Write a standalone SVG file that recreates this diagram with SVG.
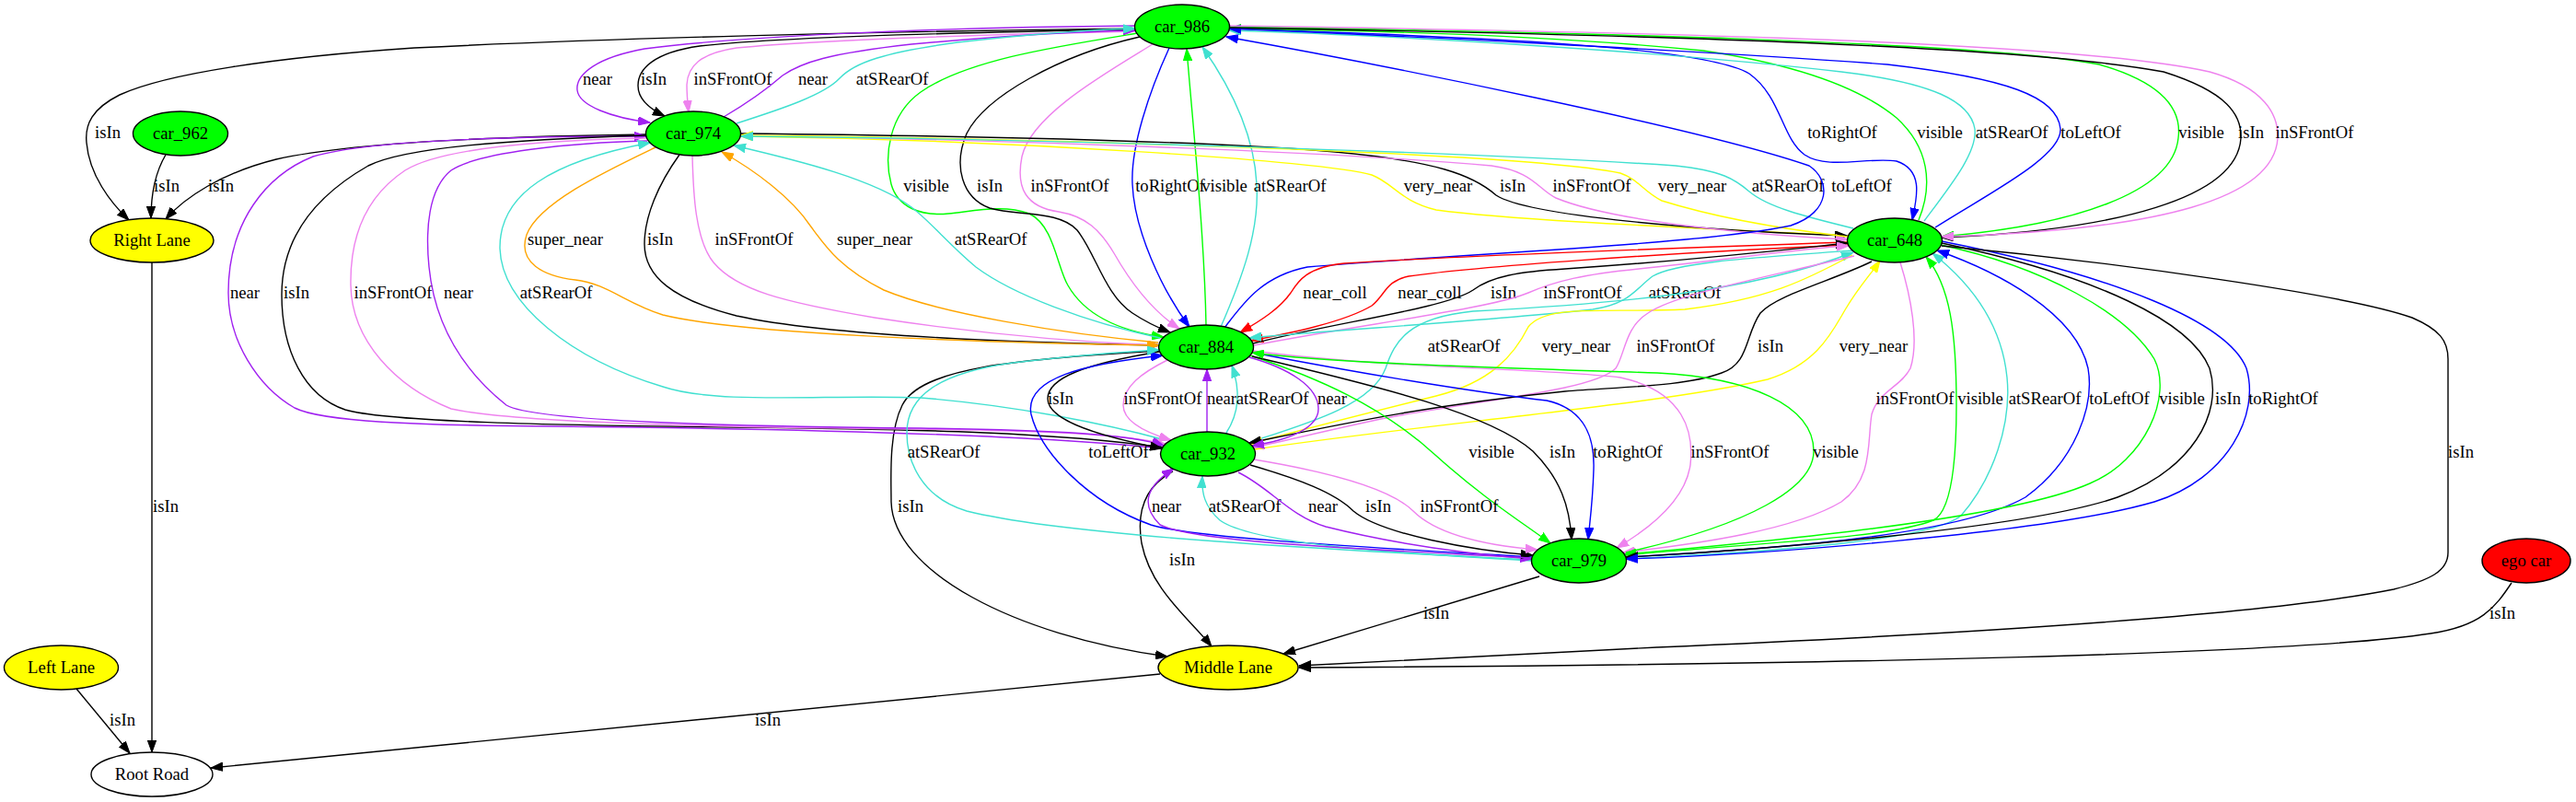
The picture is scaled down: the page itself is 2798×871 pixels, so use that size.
<svg xmlns="http://www.w3.org/2000/svg" width="2798" height="871" viewBox="0 0 2798 871">
<style>
text{font-family:"Liberation Serif","Times New Roman",serif;font-size:18.67px;text-anchor:middle;fill:#000}
#edges path{fill:none;stroke-width:1.4}
.k{stroke:#000}.p{stroke:#a020f0}.v{stroke:#ee82ee}.t{stroke:#40e0d0}.g{stroke:#00ff00}.b{stroke:#0000ff}.r{stroke:#ff0000}.o{stroke:#ffa500}.y{stroke:#ffff00}
.node ellipse{stroke:#000;stroke-width:1.4}
</style>
<defs>
<marker id="ak" viewBox="0 0 14 10" refX="13" refY="5" markerWidth="14" markerHeight="10" markerUnits="userSpaceOnUse" orient="auto"><path d="M0,0.3L13,5L0,9.7z" fill="#000" stroke="#000"/></marker>
<marker id="ap" viewBox="0 0 14 10" refX="13" refY="5" markerWidth="14" markerHeight="10" markerUnits="userSpaceOnUse" orient="auto"><path d="M0,0.3L13,5L0,9.7z" fill="#a020f0" stroke="#a020f0"/></marker>
<marker id="av" viewBox="0 0 14 10" refX="13" refY="5" markerWidth="14" markerHeight="10" markerUnits="userSpaceOnUse" orient="auto"><path d="M0,0.3L13,5L0,9.7z" fill="#ee82ee" stroke="#ee82ee"/></marker>
<marker id="at" viewBox="0 0 14 10" refX="13" refY="5" markerWidth="14" markerHeight="10" markerUnits="userSpaceOnUse" orient="auto"><path d="M0,0.3L13,5L0,9.7z" fill="#40e0d0" stroke="#40e0d0"/></marker>
<marker id="ag" viewBox="0 0 14 10" refX="13" refY="5" markerWidth="14" markerHeight="10" markerUnits="userSpaceOnUse" orient="auto"><path d="M0,0.3L13,5L0,9.7z" fill="#00ff00" stroke="#00ff00"/></marker>
<marker id="ab" viewBox="0 0 14 10" refX="13" refY="5" markerWidth="14" markerHeight="10" markerUnits="userSpaceOnUse" orient="auto"><path d="M0,0.3L13,5L0,9.7z" fill="#0000ff" stroke="#0000ff"/></marker>
<marker id="ar" viewBox="0 0 14 10" refX="13" refY="5" markerWidth="14" markerHeight="10" markerUnits="userSpaceOnUse" orient="auto"><path d="M0,0.3L13,5L0,9.7z" fill="#ff0000" stroke="#ff0000"/></marker>
<marker id="ao" viewBox="0 0 14 10" refX="13" refY="5" markerWidth="14" markerHeight="10" markerUnits="userSpaceOnUse" orient="auto"><path d="M0,0.3L13,5L0,9.7z" fill="#ffa500" stroke="#ffa500"/></marker>
<marker id="ay" viewBox="0 0 14 10" refX="13" refY="5" markerWidth="14" markerHeight="10" markerUnits="userSpaceOnUse" orient="auto"><path d="M0,0.3L13,5L0,9.7z" fill="#ffff00" stroke="#ffff00"/></marker>
</defs>
<rect width="2798" height="871" fill="#fff"/>
<g id="edges">
<g id="e1"><path class="k" marker-end="url(#ak)" d="M1233,31 C950,34 650,42 450,52 C300,62 180,80 130,103 C100,118 92,135 94,155 C97,190 120,220 140,239"/><text x="117" y="150">isIn</text></g>
<g id="e2"><path class="p" marker-end="url(#ap)" d="M1232,28 C1000,30 800,40 700,53 C650,62 625,80 627,98 C629,115 665,128 706,133"/><text x="649" y="92">near</text></g>
<g id="e3"><path class="k" marker-end="url(#ak)" d="M1233,32 C1050,35 850,40 760,50 C710,57 693,75 693,93 C693,108 705,118 722,126"/><text x="710" y="92">isIn</text></g>
<g id="e4"><path class="v" marker-end="url(#av)" d="M1233,34 C1050,38 880,44 800,52 C760,58 747,72 746,92 C746,105 747,113 748,122"/><text x="796" y="92">inSFrontOf</text></g>
<g id="e5"><path class="p" marker-end="url(#ap)" d="M786,127 C815,110 835,95 850,82 C870,68 900,58 990,48 C1100,38 1180,34 1233,33"/><text x="883" y="92">near</text></g>
<g id="e6"><path class="t" marker-end="url(#at)" d="M800,134 C850,118 895,103 912,85 C928,68 960,57 1040,46 C1120,37 1190,32 1233,31"/><text x="969" y="92">atSRearOf</text></g>
<g id="e7"><path class="g" marker-end="url(#ag)" d="M1236,36 C1150,50 1050,65 1000,100 C965,125 960,170 968,200 C975,225 1000,235 1030,232 C1060,229 1090,222 1118,232 C1145,245 1148,290 1160,310 C1180,345 1220,360 1264,366"/><text x="1006" y="208">visible</text></g>
<g id="e8"><path class="k" marker-end="url(#ak)" d="M1238,40 C1150,60 1070,105 1050,145 C1035,180 1045,215 1075,226 C1105,235 1150,228 1170,250 C1190,275 1200,320 1230,340 C1245,350 1258,356 1271,361"/><text x="1075" y="208">isIn</text></g>
<g id="e9"><path class="v" marker-end="url(#av)" d="M1252,48 C1200,80 1120,125 1110,170 C1103,205 1115,225 1150,230 C1180,235 1195,250 1210,275 C1230,310 1255,340 1281,357"/><text x="1162" y="208">inSFrontOf</text></g>
<g id="e10"><path class="b" marker-end="url(#ab)" d="M1270,52 C1248,100 1228,160 1230,200 C1232,250 1262,315 1292,355"/><text x="1271" y="208">toRightOf</text></g>
<g id="e11"><path class="g" marker-end="url(#ag)" d="M1310,353 C1308,250 1295,130 1289,53"/><text x="1330" y="208">visible</text></g>
<g id="e12"><path class="t" marker-end="url(#at)" d="M1326,355 C1350,300 1368,250 1365,200 C1362,140 1330,85 1306,51"/><text x="1401" y="208">atSRearOf</text></g>
<g id="e13"><path class="k" marker-end="url(#ak)" d="M738,168 C715,200 700,235 700,265 C700,300 730,325 800,343 C900,365 1100,372 1259,375"/><text x="717" y="266">isIn</text></g>
<g id="e14"><path class="v" marker-end="url(#av)" d="M752,169 C753,210 755,260 775,285 C800,315 850,328 950,345 C1080,365 1180,372 1259,375"/><text x="819" y="266">inSFrontOf</text></g>
<g id="e15"><path class="o" marker-end="url(#ao)" d="M1258,372 C1150,362 1020,340 960,315 C910,290 895,265 880,245 C860,215 820,185 784,165"/><text x="950" y="266">super_near</text></g>
<g id="e16"><path class="o" marker-end="url(#ao)" d="M712,160 C660,185 585,220 572,255 C562,285 590,300 625,304 C660,308 680,330 720,342 C800,362 1050,372 1259,375"/><text x="614" y="266">super_near</text></g>
<g id="e17"><path class="t" marker-end="url(#at)" d="M1260,367 C1180,350 1100,320 1060,290 C1030,265 1010,240 990,225 C950,195 870,175 797,158"/><text x="1076" y="266">atSRearOf</text></g>
<g id="e18"><path class="y" marker-end="url(#ay)" d="M2008,256 C1850,248 1650,240 1560,228 C1520,218 1515,200 1490,190 C1440,175 1100,152 805,148"/><text x="1562" y="208">very_near</text></g>
<g id="e19"><path class="k" marker-end="url(#ak)" d="M805,145 C1000,147 1300,152 1450,165 C1560,175 1600,190 1625,212 C1660,235 1850,250 2006,256"/><text x="1643" y="208">isIn</text></g>
<g id="e20"><path class="v" marker-end="url(#av)" d="M805,147 C1100,152 1450,165 1620,180 C1665,186 1670,205 1690,215 C1750,240 1900,255 2007,260"/><text x="1729" y="208">inSFrontOf</text></g>
<g id="e21"><path class="y" marker-end="url(#ay)" d="M2007,257 C1920,247 1850,232 1805,218 C1785,208 1780,195 1760,188 C1650,165 1100,150 805,147"/><text x="1838" y="208">very_near</text></g>
<g id="e22"><path class="t" marker-end="url(#at)" d="M2013,248 C1960,235 1920,225 1900,208 C1885,195 1870,185 1820,180 C1600,165 1100,150 805,148"/><text x="1942" y="208">atSRearOf</text></g>
<g id="e23"><path class="b" marker-end="url(#ab)" d="M1330,356 C1350,330 1370,300 1420,290 C1600,275 1850,265 1945,245 C1990,230 1988,195 1965,180 C1850,140 1500,70 1332,40"/><text x="2022" y="208">toLeftOf</text></g>
<g id="e24"><path class="b" marker-end="url(#ab)" d="M1336,31 C1600,40 1850,50 1900,80 C1935,105 1935,150 1960,168 C1985,185 2030,170 2060,175 C2090,185 2082,215 2077,239"/><text x="2001" y="150">toRightOf</text></g>
<g id="e25"><path class="g" marker-end="url(#ag)" d="M2084,239 C2100,200 2095,160 2060,128 C2020,95 1950,70 1850,55 C1700,40 1500,33 1335,31"/><text x="2107" y="150">visible</text></g>
<g id="e26"><path class="t" marker-end="url(#at)" d="M2090,240 C2120,200 2148,165 2145,140 C2140,110 2100,90 2000,78 C1800,55 1500,38 1335,33"/><text x="2185" y="150">atSRearOf</text></g>
<g id="e27"><path class="b" marker-end="url(#ab)" d="M2102,247 C2160,210 2240,170 2238,140 C2235,105 2180,85 2050,70 C1850,55 1500,38 1335,31"/><text x="2271" y="150">toLeftOf</text></g>
<g id="e28"><path class="g" marker-end="url(#ag)" d="M1336,29 C1700,35 2150,45 2280,70 C2350,90 2370,120 2366,150 C2360,210 2250,245 2109,257"/><text x="2391" y="150">visible</text></g>
<g id="e29"><path class="k" marker-end="url(#ak)" d="M1336,30 C1800,38 2200,50 2350,78 C2420,100 2435,125 2434,150 C2430,215 2300,250 2109,258"/><text x="2445" y="150">isIn</text></g>
<g id="e30"><path class="v" marker-end="url(#av)" d="M1336,28 C1800,35 2250,45 2400,78 C2460,95 2475,125 2474,150 C2470,215 2350,250 2109,257"/><text x="2514" y="150">inSFrontOf</text></g>
<g id="e31"><path class="r" marker-end="url(#ar)" d="M2007,263 C1800,270 1550,280 1460,286 C1420,290 1410,305 1402,318 C1390,335 1370,348 1347,361"/><text x="1450" y="324">near_coll</text></g>
<g id="e32"><path class="r" marker-end="url(#ar)" d="M2008,266 C1800,275 1600,290 1530,300 C1505,305 1505,320 1490,332 C1460,350 1400,362 1359,370"/><text x="1553" y="324">near_coll</text></g>
<g id="e33"><path class="k" marker-end="url(#ak)" d="M1361,373 C1450,350 1570,335 1600,315 C1620,300 1650,295 1700,292 C1850,282 1950,270 2007,264"/><text x="1633" y="324">isIn</text></g>
<g id="e34"><path class="v" marker-end="url(#av)" d="M1362,375 C1480,352 1620,335 1660,318 C1690,305 1720,298 1780,292 C1880,282 1950,270 2008,267"/><text x="1719" y="324">inSFrontOf</text></g>
<g id="e35"><path class="t" marker-end="url(#at)" d="M2013,272 C1900,280 1820,285 1795,300 C1775,315 1770,330 1730,336 C1600,350 1450,358 1357,367"/><text x="1830" y="324">atSRearOf</text></g>
<g id="e36"><path class="t" marker-end="url(#at)" d="M1358,480 C1420,460 1490,440 1505,400 C1515,370 1530,345 1600,338 C1750,330 1900,318 2013,274"/><text x="1590" y="382">atSRearOf</text></g>
<g id="e37"><path class="y" marker-end="url(#ay)" d="M2012,277 C1960,305 1920,325 1830,336 C1740,340 1680,330 1660,355 C1645,385 1620,415 1560,430 C1480,450 1420,465 1358,482"/><text x="1712" y="382">very_near</text></g>
<g id="e38"><path class="v" marker-end="url(#av)" d="M2014,278 C1900,305 1820,320 1790,340 C1765,355 1765,385 1755,400 C1730,425 1600,435 1500,455 C1430,470 1400,478 1360,486"/><text x="1820" y="382">inSFrontOf</text></g>
<g id="e39"><path class="k" marker-end="url(#ak)" d="M2033,284 C1990,305 1930,320 1912,340 C1895,365 1900,395 1870,405 C1830,420 1760,420 1700,425 C1550,440 1450,462 1357,481"/><text x="1923" y="382">isIn</text></g>
<g id="e40"><path class="y" marker-end="url(#ay)" d="M1363,488 C1550,460 1800,440 1920,412 C1975,395 1990,360 2005,335 C2020,310 2032,298 2042,283"/><text x="2035" y="382">very_near</text></g>
<g id="e41"><path class="v" marker-end="url(#av)" d="M2064,285 C2075,320 2085,370 2075,400 C2065,420 2040,425 2033,450 C2028,480 2035,520 2000,545 C1950,575 1850,590 1763,600"/><text x="2080" y="439">inSFrontOf</text></g>
<g id="e42"><path class="g" marker-end="url(#ag)" d="M1766,603 C1900,590 2050,585 2100,565 C2120,555 2125,500 2125,440 C2125,360 2118,310 2092,279"/><text x="2151" y="439">visible</text></g>
<g id="e43"><path class="t" marker-end="url(#at)" d="M1766,607 C1950,598 2100,585 2130,560 C2165,520 2185,460 2180,410 C2175,360 2150,315 2099,275"/><text x="2221" y="439">atSRearOf</text></g>
<g id="e44"><path class="b" marker-end="url(#ab)" d="M1766,605 C1950,595 2130,580 2200,540 C2255,500 2275,440 2268,400 C2255,340 2170,295 2104,272"/><text x="2302" y="439">toLeftOf</text></g>
<g id="e45"><path class="g" marker-end="url(#ag)" d="M2108,266 C2220,290 2310,340 2340,390 C2360,430 2330,500 2270,525 C2180,565 1900,590 1764,602"/><text x="2370" y="439">visible</text></g>
<g id="e46"><path class="k" marker-end="url(#ak)" d="M2109,264 C2280,300 2380,350 2400,400 C2415,450 2380,510 2300,540 C2200,575 1900,598 1766,605"/><text x="2420" y="439">isIn</text></g>
<g id="e47"><path class="b" marker-end="url(#ab)" d="M2109,262 C2300,300 2420,350 2440,400 C2455,450 2420,520 2340,545 C2220,580 1900,603 1766,607"/><text x="2480" y="439">toRightOf</text></g>
<g id="e48"><path class="k" marker-end="url(#ak)" d="M2109,267 C2300,285 2550,320 2620,345 C2650,358 2659,370 2659,390 L2659,600 C2659,620 2640,630 2600,640 C2450,670 2100,690 1800,703 C1650,710 1500,718 1411,723"/><text x="2673" y="497">isIn</text></g>
<g id="e49"><path class="k" marker-end="url(#ak)" d="M2728,633 C2710,660 2695,680 2640,688 C2500,710 2000,722 1411,725"/><text x="2718" y="672">isIn</text></g>
<g id="e50"><path class="k" marker-end="url(#ak)" d="M1672,626 L1394,710"/><text x="1560" y="672">isIn</text></g>
<g id="e51"><path class="k" marker-end="url(#ak)" d="M1274,512 C1240,530 1235,560 1240,590 C1250,640 1290,670 1316,702"/><text x="1284" y="614">isIn</text></g>
<g id="e52"><path class="k" marker-end="url(#ak)" d="M1259,381 C1100,390 1000,400 980,440 C965,470 968,520 968,545 C970,620 1100,690 1268,713"/><text x="989" y="556">isIn</text></g>
<g id="e53"><path class="k" marker-end="url(#ak)" d="M1260,732 L229,834"/><text x="834" y="788">isIn</text></g>
<g id="e54"><path class="k" marker-end="url(#ak)" d="M83,748 L141,818"/><text x="133" y="788">isIn</text></g>
<g id="e55"><path class="k" marker-end="url(#ak)" d="M165,285 L165,817"/><text x="180" y="556">isIn</text></g>
<g id="e56"><path class="k" marker-end="url(#ak)" d="M180,168 C170,185 164,205 164,237"/><text x="181" y="208">isIn</text></g>
<g id="e57"><path class="k" marker-end="url(#ak)" d="M702,146 C550,148 380,155 300,173 C240,188 200,215 180,238"/><text x="240" y="208">isIn</text></g>
<g id="e58"><path class="p" marker-end="url(#ap)" d="M1262,487 C1100,470 800,465 600,463 C450,462 350,458 320,443 C280,420 248,370 248,318 C248,240 290,190 340,170 C400,152 550,148 702,148"/><text x="266" y="324">near</text></g>
<g id="e59"><path class="k" marker-end="url(#ak)" d="M702,147 C550,152 440,160 400,180 C330,220 306,270 306,320 C306,380 330,430 375,445 C420,458 600,462 800,464 C1000,466 1150,470 1263,486"/><text x="322" y="324">isIn</text></g>
<g id="e60"><path class="v" marker-end="url(#av)" d="M702,150 C600,152 480,160 440,185 C395,215 380,260 381,310 C382,370 430,420 490,444 C560,460 800,464 1000,466 C1150,468 1220,472 1265,482"/><text x="427" y="324">inSFrontOf</text></g>
<g id="e61"><path class="p" marker-end="url(#ap)" d="M703,153 C620,155 520,165 490,185 C465,205 462,250 466,290 C472,350 500,400 550,440 C580,458 800,463 1000,465 C1150,467 1230,472 1264,484"/><text x="498" y="324">near</text></g>
<g id="e62"><path class="t" marker-end="url(#at)" d="M1266,478 C1200,460 1100,440 1000,432 C900,428 780,440 720,420 C620,390 545,330 543,270 C542,210 600,175 706,155"/><text x="604" y="324">atSRearOf</text></g>
<g id="e63"><path class="k" marker-end="url(#ak)" d="M1259,382 C1180,395 1138,410 1138,433 C1138,458 1200,475 1262,487"/><text x="1152" y="439">isIn</text></g>
<g id="e64"><path class="v" marker-end="url(#av)" d="M1268,391 C1240,405 1220,420 1220,440 C1220,458 1245,470 1272,478"/><text x="1263" y="439">inSFrontOf</text></g>
<g id="e65"><path class="p" marker-end="url(#ap)" d="M1311,469 L1311,401"/><text x="1327" y="439">near</text></g>
<g id="e66"><path class="t" marker-end="url(#at)" d="M1332,470 C1345,450 1348,425 1338,397"/><text x="1382" y="439">atSRearOf</text></g>
<g id="e67"><path class="p" marker-end="url(#ap)" d="M1357,388 C1400,400 1432,420 1432,444 C1432,465 1400,478 1360,484"/><text x="1447" y="439">near</text></g>
<g id="e68"><path class="g" marker-end="url(#ag)" d="M1358,386 C1430,410 1500,440 1560,495 C1610,540 1650,565 1684,590"/><text x="1620" y="497">visible</text></g>
<g id="e69"><path class="k" marker-end="url(#ak)" d="M1360,387 C1500,420 1620,450 1665,490 C1695,520 1705,550 1707,586"/><text x="1697" y="497">isIn</text></g>
<g id="e70"><path class="b" marker-end="url(#ab)" d="M1361,383 C1500,410 1620,428 1680,435 C1725,445 1732,480 1731,510 C1730,545 1727,565 1725,586"/><text x="1768" y="497">toRightOf</text></g>
<g id="e71"><path class="v" marker-end="url(#av)" d="M1361,381 C1500,400 1680,400 1760,410 C1830,425 1840,470 1836,505 C1830,545 1790,575 1756,595"/><text x="1879" y="497">inSFrontOf</text></g>
<g id="e72"><path class="g" marker-end="url(#ag)" d="M1766,600 C1900,570 1970,530 1970,490 C1970,440 1900,410 1800,405 C1650,400 1450,395 1360,383"/><text x="1994" y="497">visible</text></g>
<g id="e73"><path class="b" marker-end="url(#ab)" d="M1664,605 C1500,595 1300,585 1250,570 C1180,545 1130,490 1120,450 C1112,410 1180,395 1263,386"/><text x="1215" y="497">toLeftOf</text></g>
<g id="e74"><path class="t" marker-end="url(#at)" d="M1664,608 C1400,595 1150,580 1050,555 C1000,540 985,500 985,470 C985,430 1020,405 1100,394 C1170,386 1220,382 1259,380"/><text x="1025" y="497">atSRearOf</text></g>
<g id="e75"><path class="t" marker-end="url(#at)" d="M1664,609 C1500,600 1360,590 1325,565 C1308,550 1305,535 1306,517"/><text x="1352" y="556">atSRearOf</text></g>
<g id="e76"><path class="p" marker-end="url(#ap)" d="M1345,513 C1380,530 1400,560 1440,572 C1520,592 1600,602 1664,607"/><text x="1437" y="556">near</text></g>
<g id="e77"><path class="k" marker-end="url(#ak)" d="M1358,505 C1410,520 1450,535 1470,555 C1500,580 1600,598 1665,603"/><text x="1497" y="556">isIn</text></g>
<g id="e78"><path class="v" marker-end="url(#av)" d="M1362,499 C1440,512 1510,530 1535,555 C1560,580 1610,592 1670,597"/><text x="1585" y="556">inSFrontOf</text></g>
<g id="e79"><path class="p" marker-end="url(#ap)" d="M1664,606 C1500,597 1300,590 1260,570 C1240,550 1242,530 1275,509"/><text x="1267" y="556">near</text></g>
</g>
<g id="car_986" class="node"><ellipse cx="1284" cy="29" rx="51.5" ry="24" fill="#00ff00"/><text x="1284" y="35">car_986</text></g>
<g id="car_974" class="node"><ellipse cx="753" cy="145" rx="51.5" ry="24" fill="#00ff00"/><text x="753" y="151">car_974</text></g>
<g id="car_962" class="node"><ellipse cx="196" cy="145" rx="51.5" ry="24" fill="#00ff00"/><text x="196" y="151">car_962</text></g>
<g id="car_648" class="node"><ellipse cx="2058" cy="261" rx="51.5" ry="24" fill="#00ff00"/><text x="2058" y="267">car_648</text></g>
<g id="right_lane" class="node"><ellipse cx="165" cy="261" rx="67" ry="24" fill="#ffff00"/><text x="165" y="267">Right Lane</text></g>
<g id="car_884" class="node"><ellipse cx="1310" cy="377" rx="51.5" ry="24" fill="#00ff00"/><text x="1310" y="383">car_884</text></g>
<g id="car_932" class="node"><ellipse cx="1312" cy="493" rx="51.5" ry="24" fill="#00ff00"/><text x="1312" y="499">car_932</text></g>
<g id="car_979" class="node"><ellipse cx="1715" cy="609" rx="51.5" ry="24" fill="#00ff00"/><text x="1715" y="615">car_979</text></g>
<g id="ego_car" class="node"><ellipse cx="2744" cy="609" rx="48" ry="24" fill="#ff0000"/><text x="2744" y="615">ego car</text></g>
<g id="middle_lane" class="node"><ellipse cx="1334" cy="725" rx="76" ry="24" fill="#ffff00"/><text x="1334" y="731">Middle Lane</text></g>
<g id="left_lane" class="node"><ellipse cx="66.5" cy="725" rx="62" ry="24" fill="#ffff00"/><text x="66.5" y="731">Left Lane</text></g>
<g id="root_road" class="node"><ellipse cx="165" cy="841" rx="66" ry="24" fill="#ffffff"/><text x="165" y="847">Root Road</text></g>
</svg>
